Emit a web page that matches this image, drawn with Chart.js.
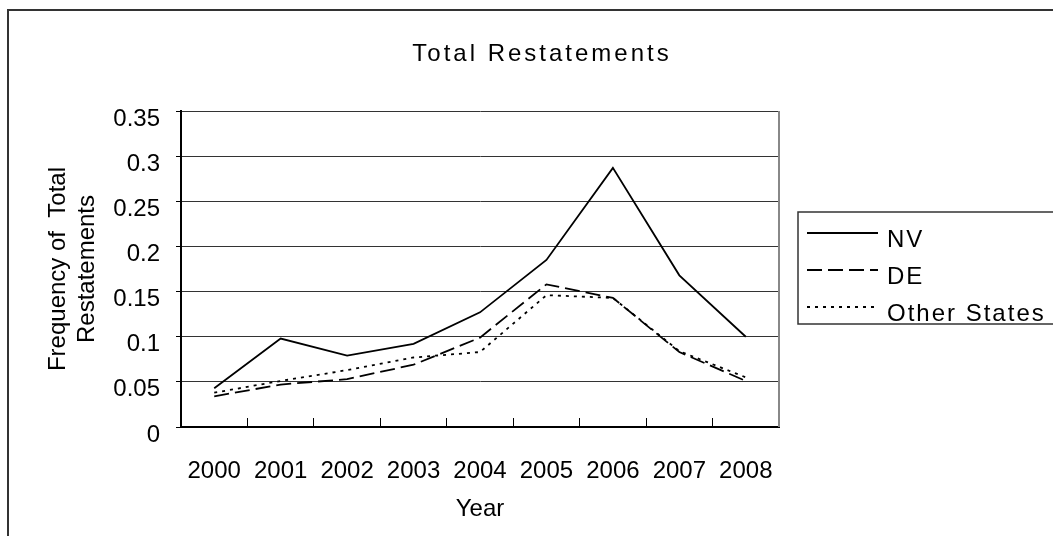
<!DOCTYPE html>
<html>

<head>
    <title>Total Restatements</title>
    <script src="https://cdn.jsdelivr.net/npm/chart.js"></script>
    <style>
        body { margin: 0; background: #fff; }
    </style>
</head>

<body>
    <canvas id="myChart" width="1053" height="536"></canvas>

    <script>
        // data
        var years = ['2000', '2001', '2002', '2003', '2004', '2005', '2006', '2007', '2008'];
        var nv = [0.043, 0.098, 0.079, 0.092, 0.127, 0.185, 0.287, 0.168, 0.100];
        var de = [0.034, 0.047, 0.053, 0.069, 0.099, 0.158, 0.143, 0.083, 0.051];
        var other = [0.038, 0.051, 0.063, 0.077, 0.083, 0.146, 0.143, 0.084, 0.055];
        var seriesNames = ['NV', 'DE', 'Other States'];
        var chartTitle = 'Total Restatements';

        var font_family = "'Liberation Sans', Arial, sans-serif";

        // white page + outer frame + title + right edge of the plot
        const framePlugin = {
            id: 'frame',
            beforeDraw(chart) {
                const ctx = chart.ctx;
                ctx.save();
                ctx.fillStyle = '#fff';
                ctx.fillRect(0, 0, chart.width, chart.height);
                ctx.strokeStyle = '#333';
                ctx.lineWidth = 2;
                ctx.strokeRect(8, 10, chart.width + 20, chart.height + 20);

                ctx.fillStyle = '#000';
                ctx.font = '24px ' + font_family;
                ctx.textAlign = 'center';
                ctx.textBaseline = 'middle';
                ctx.letterSpacing = '3px';
                ctx.fillText(chartTitle, 542, 54);
                ctx.restore();
            },
            afterDatasetsDraw(chart) {
                const ctx = chart.ctx;
                const a = chart.chartArea;
                ctx.save();
                ctx.strokeStyle = '#888';
                ctx.lineWidth = 2;
                ctx.beginPath();
                ctx.moveTo(a.right, a.top);
                ctx.lineTo(a.right, a.bottom);
                ctx.stroke();
                ctx.restore();
            }
        };

        // legend box on the right, cut by the page edge
        const legendPlugin = {
            id: 'sideLegend',
            afterDraw(chart) {
                const ctx = chart.ctx;
                ctx.save();
                ctx.strokeStyle = '#333';
                ctx.lineWidth = 1.5;
                ctx.strokeRect(798, 212, 300, 112);
                ctx.font = '24px ' + font_family;
                ctx.textBaseline = 'middle';
                ctx.fillStyle = '#000';
                chart.data.datasets.forEach(function (ds, i) {
                    var y = 233 + i * 37;
                    ctx.setLineDash(ds.borderDash || []);
                    ctx.lineWidth = ds.borderWidth;
                    ctx.strokeStyle = ds.borderColor;
                    ctx.beginPath();
                    ctx.moveTo(807, y);
                    ctx.lineTo(878, y);
                    ctx.stroke();
                    ctx.setLineDash([]);
                    ctx.letterSpacing = '2px';
                    ctx.fillText(ds.label, 887, y + 7);
                    ctx.letterSpacing = '0px';
                });
                ctx.restore();
            }
        };

        const chart_data = {
            labels: years,
            datasets: [{
                label: seriesNames[0],
                data: nv,
                borderColor: '#000',
                borderWidth: 1.8,
                pointRadius: 0,
                tension: 0,
                fill: false
            }, {
                label: seriesNames[1],
                data: de,
                borderColor: '#000',
                borderWidth: 1.8,
                borderDash: [15, 6],
                pointRadius: 0,
                tension: 0,
                fill: false
            }, {
                label: seriesNames[2],
                data: other,
                borderColor: '#000',
                borderWidth: 1.8,
                borderDash: [3, 5],
                pointRadius: 0,
                tension: 0,
                fill: false
            }]
        };

        const config = {
            type: 'line',
            data: chart_data,
            options: {
                responsive: false,
                animation: false,
                devicePixelRatio: 1,
                layout: {
                    padding: { left: 0, right: 274, top: 111, bottom: 0 }
                },
                scales: {
                    x: {
                        offset: true,
                        afterFit: function (scale) { scale.height = 109; },
                        grid: {
                            offset: true,
                            drawOnChartArea: false,
                            drawTicks: true,
                            tickLength: -9,
                            color: '#000',
                            lineWidth: 1
                        },
                        border: { display: true, color: '#000', width: 2 },
                        ticks: {
                            color: '#000',
                            padding: 39,
                            maxRotation: 0,
                            autoSkip: false,
                            font: { family: font_family, size: 24 }
                        },
                        title: {
                            display: true,
                            text: 'Year',
                            color: '#000',
                            padding: { top: 0, bottom: 12 },
                            font: { family: font_family, size: 24 }
                        }
                    },
                    y: {
                        min: 0,
                        max: 0.35,
                        afterFit: function (scale) { scale.width = 181; },
                        grid: {
                            color: '#333',
                            lineWidth: 1,
                            tickLength: 5,
                            tickColor: '#000'
                        },
                        border: { display: true, color: '#000', width: 2 },
                        ticks: {
                            stepSize: 0.05,
                            color: '#000',
                            padding: 16,
                            labelOffset: 8,
                            font: { family: font_family, size: 24 },
                            callback: function (v) { return +v.toFixed(2); }
                        },
                        title: {
                            display: true,
                            text: ['Frequency of  Total', 'Restatements'],
                            color: '#000',
                            padding: { top: 44, bottom: 0 },
                            font: { family: font_family, size: 24 }
                        }
                    }
                },
                plugins: {
                    legend: { display: false },
                    tooltip: { enabled: false },
                    title: { display: false }
                }
            },
            plugins: [framePlugin, legendPlugin]
        };

        var myChart = new Chart(document.getElementById('myChart'), config);
    </script>

</body>

</html>
